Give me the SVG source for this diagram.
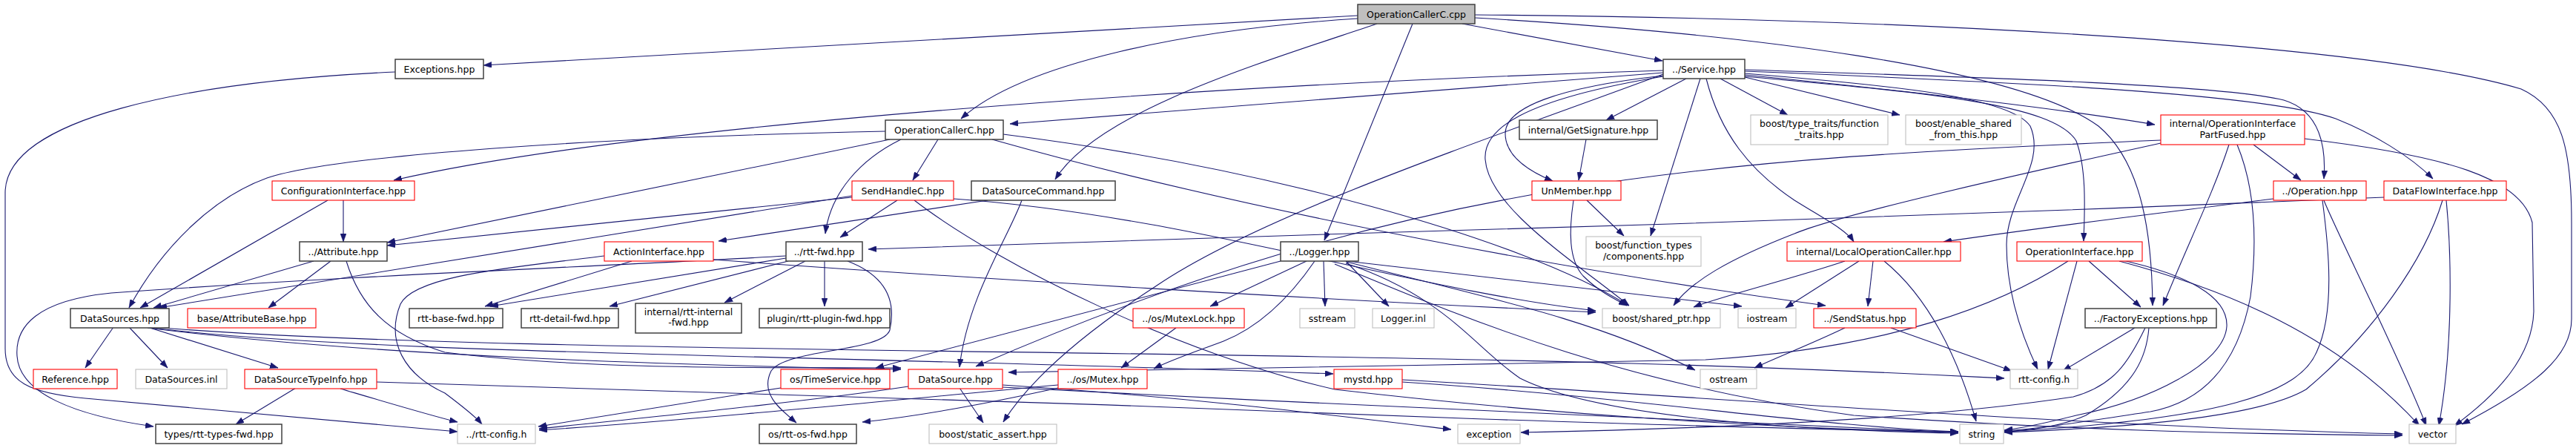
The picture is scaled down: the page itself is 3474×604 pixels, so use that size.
<svg xmlns="http://www.w3.org/2000/svg" width="3474" height="604" viewBox="0 0 3474 604">
<style>
text{font-family:"DejaVu Sans","Liberation Sans",sans-serif;font-size:12.5px;text-anchor:middle;fill:#000}
.b rect{fill:#fff;stroke:#404040;stroke-width:1.5}
.r rect{fill:#fff;stroke:#ff0000;stroke-width:1.1}
.g rect{fill:#fff;stroke:#bfbfbf;stroke-width:1.1}
.root rect{fill:#bfbfbf;stroke:#404040;stroke-width:1.5}
#edges path{fill:none;stroke:#191970;stroke-width:1.1;marker-end:url(#a)}
</style>
<defs>
<marker id="a" markerWidth="11" markerHeight="8" refX="11" refY="4" orient="auto" markerUnits="userSpaceOnUse"><path d="M0,0L11,4L0,8z" fill="#191970" stroke="#191970" stroke-width="0.5"/></marker>
</defs>
<rect width="3474" height="604" fill="#fff"/>
<g id="edges">
<path d="M1831,21 L652,88"/>
<path d="M1831,25 C1600,40 1380,85 1296,160"/>
<path d="M1857,32 C1700,85 1480,150 1423,242"/>
<path d="M1905,32 L1786,324"/>
<path d="M1972,32 L2242,82"/>
<path d="M1989,24 C2350,45 2720,90 2830,170 C2890,220 2902,320 2903,412"/>
<path d="M1989,20 C2600,25 3200,60 3400,120 C3455,145 3468,200 3468,300 L3468,430 C3468,480 3420,520 3320,572"/>
<path d="M533,97 C250,110 7,160 7,260 L7,470 C7,515 40,530 115,537 L617,582"/>
<path d="M2243,98 L1362,167"/>
<path d="M2243,95 C1600,115 850,170 531,243"/>
<path d="M2274,106 L2166,162"/>
<path d="M2243,102 C2100,118 2030,145 2030,180 C2030,210 2060,230 2094,244"/>
<path d="M2293,106 L2226,318"/>
<path d="M2243,103 C2050,135 2000,175 2003,215 C2008,280 2120,350 2197,412"/>
<path d="M2320,106 L2411,155"/>
<path d="M2353,104 L2562,155"/>
<path d="M2353,101 C2600,125 2800,150 2906,168"/>
<path d="M2353,94 C2700,105 3000,115 3080,135 C3130,150 3137,200 3134,241"/>
<path d="M2353,96 C2700,110 3050,125 3150,160 C3200,180 3250,210 3281,241"/>
<path d="M2301,106 C2320,180 2360,230 2420,270 C2460,295 2490,310 2500,326"/>
<path d="M2353,103 C2600,125 2770,140 2800,190 C2815,230 2811,290 2810,325"/>
<path d="M2353,99 C2550,115 2710,130 2738,170 C2760,220 2706,270 2706,330 C2706,400 2730,460 2748,498"/>
<path d="M2243,100 C2000,190 1700,290 1560,385 C1460,450 1390,510 1353,569"/>
<path d="M1194,177 C800,185 450,210 360,240 C290,265 220,330 174,415"/>
<path d="M1200,188 L522,327"/>
<path d="M1265,188 L1231,243"/>
<path d="M1215,188 C1160,215 1120,260 1113,315"/>
<path d="M1353,181 C1700,225 2050,320 2196,412"/>
<path d="M1338,188 C1700,290 2150,370 2462,412"/>
<path d="M2139,188 L2129,243"/>
<path d="M2140,270 L2190,318"/>
<path d="M2122,270 C2116,310 2115,350 2135,372 C2155,392 2175,402 2194,412"/>
<path d="M463,270 L463,326"/>
<path d="M442,270 L189,415"/>
<path d="M1149,266 L522,331"/>
<path d="M1149,264 L214,415"/>
<path d="M1210,270 L1133,320"/>
<path d="M1233,270 C1350,360 1600,480 1800,525 C2100,560 2400,578 2641,583"/>
<path d="M1286,268 C1600,290 1900,390 2152,419"/>
<path d="M1332,270 L969,325"/>
<path d="M1378,270 C1360,320 1305,400 1294,495"/>
<path d="M3039,195 L3103,243"/>
<path d="M3006,195 C2985,260 2950,330 2917,412"/>
<path d="M3017,195 C3040,250 3045,320 3035,400 C3020,480 2980,540 2900,555 C2800,570 2750,578 2703,581"/>
<path d="M3108,187 C3300,210 3400,240 3415,300 L3417,420 C3415,480 3370,530 3310,574"/>
<path d="M2914,193 C2700,240 2480,290 2420,315 C2330,350 2280,380 2257,412"/>
<path d="M3215,266 C2900,280 2400,297 2252,302 C1900,312 1500,325 1171,336"/>
<path d="M2914,189 C2300,215 1900,240 1316,494"/>
<path d="M3066,268 C2950,283 2800,300 2621,326"/>
<path d="M3132,270 C3140,330 3150,420 3124,475 C3100,530 3000,565 2703,582"/>
<path d="M3134,270 C3145,300 3240,490 3272,574"/>
<path d="M3294,270 C3270,350 3200,450 3110,525 C3050,560 2900,575 2703,583"/>
<path d="M3299,270 C3305,330 3310,460 3289,574"/>
<path d="M423,352 L207,415"/>
<path d="M446,352 L362,415"/>
<path d="M467,352 C485,410 520,450 600,475 C800,500 1050,495 1215,496"/>
<path d="M153,441 L115,496"/>
<path d="M174,441 L226,496"/>
<path d="M199,441 L375,496"/>
<path d="M199,442 C500,480 900,492 1215,498"/>
<path d="M204,442 C500,478 1100,478 1798,504"/>
<path d="M208,441 C600,475 1500,470 2200,490 C2450,497 2600,505 2703,510"/>
<path d="M399,523 L318,572"/>
<path d="M508,515 C900,525 1500,545 2000,565 C2300,575 2500,580 2641,582"/>
<path d="M459,524 C530,545 580,560 617,569"/>
<path d="M852,352 L654,413"/>
<path d="M962,350 C1300,375 1800,405 2152,421"/>
<path d="M815,345 C700,360 560,370 540,410 C520,460 545,505 600,530 C620,545 640,560 650,572"/>
<path d="M1060,348 L661,413"/>
<path d="M1063,352 L822,413"/>
<path d="M1086,352 L977,408"/>
<path d="M1112,352 L1112,413"/>
<path d="M1060,345 C800,360 500,370 150,395 C50,405 20,440 23,480 C26,530 100,560 207,575"/>
<path d="M1143,352 C1190,370 1210,400 1200,445 C1190,475 1060,470 1040,500 C1025,530 1050,550 1074,570"/>
<path d="M1762,352 L1632,413"/>
<path d="M1785,352 L1787,413"/>
<path d="M1815,352 L1873,413"/>
<path d="M1816,352 L2349,413"/>
<path d="M1816,353 C2000,400 2150,430 2286,499"/>
<path d="M1815,355 C1950,400 1990,470 2050,510 C2150,560 2400,580 2641,584"/>
<path d="M1800,356 C2000,440 2200,520 2500,560 C2800,580 3000,585 3240,587"/>
<path d="M1727,352 L1181,496"/>
<path d="M1773,352 C1740,400 1700,440 1650,460 C1610,475 1580,485 1556,497"/>
<path d="M1586,442 L1512,496"/>
<path d="M2507,352 L2408,415"/>
<path d="M2526,352 L2519,413"/>
<path d="M2541,352 C2600,400 2640,480 2665,568"/>
<path d="M2488,352 C2420,375 2320,400 2284,414"/>
<path d="M2817,352 L2887,414"/>
<path d="M2801,352 L2762,498"/>
<path d="M2789,352 C2700,410 2550,470 2300,485 C2000,492 1600,497 1360,502"/>
<path d="M2858,352 C3000,390 3150,450 3263,574"/>
<path d="M2858,350 C2950,370 3005,400 3003,440 C3000,490 2900,540 2800,560 C2760,570 2730,577 2703,580"/>
<path d="M2488,442 C2440,465 2400,480 2366,496"/>
<path d="M2550,442 L2713,500"/>
<path d="M2879,442 L2782,500"/>
<path d="M2898,442 C2895,480 2880,520 2813,560 C2780,575 2740,580 2703,582"/>
<path d="M2893,442 C2870,490 2850,520 2796,535 C2600,565 2300,578 2051,583"/>
<path d="M1053,523 L726,575"/>
<path d="M1225,521 C1100,540 900,560 727,578"/>
<path d="M1294,523 L1326,570"/>
<path d="M1352,519 C1600,535 1800,560 1957,579"/>
<path d="M1352,522 C1800,545 2300,570 2641,583"/>
<path d="M1427,519 C1200,540 950,565 727,580"/>
<path d="M1427,523 C1350,540 1250,560 1163,569"/>
<path d="M1891,515 C2200,535 2450,575 2641,582"/>
<path d="M1891,512 C2300,535 2800,575 3240,585"/>
</g>
<g id="n_occ_cpp" class="root"><rect x="1831" y="6" width="158" height="26"/><text x="1910" y="23.5">OperationCallerC.cpp</text></g>
<g id="n_exceptions" class="b"><rect x="533" y="80" width="119" height="26"/><text x="592.5" y="97.5">Exceptions.hpp</text></g>
<g id="n_service" class="b"><rect x="2243" y="80" width="110" height="26"/><text x="2298" y="97.5">../Service.hpp</text></g>
<g id="n_occ_hpp" class="b"><rect x="1194" y="162" width="159" height="26"/><text x="1273.5" y="179.5">OperationCallerC.hpp</text></g>
<g id="n_getsig" class="b"><rect x="2049" y="162" width="186" height="26"/><text x="2142" y="179.5">internal/GetSignature.hpp</text></g>
<g id="n_typetraits" class="g"><rect x="2361" y="155" width="185" height="40"/><text x="2453.5" y="170.5">boost/type_traits/function</text><text x="2453.5" y="185.5">_traits.hpp</text></g>
<g id="n_enable" class="g"><rect x="2570" y="155" width="156" height="40"/><text x="2648" y="170.5">boost/enable_shared</text><text x="2648" y="185.5">_from_this.hpp</text></g>
<g id="n_partfused" class="r"><rect x="2914" y="155" width="194" height="40"/><text x="3011" y="170.5">internal/OperationInterface</text><text x="3011" y="185.5">PartFused.hpp</text></g>
<g id="n_config" class="r"><rect x="367" y="244" width="192" height="26"/><text x="463" y="261.5">ConfigurationInterface.hpp</text></g>
<g id="n_sendhandle" class="r"><rect x="1149" y="244" width="137" height="26"/><text x="1217.5" y="261.5">SendHandleC.hpp</text></g>
<g id="n_dscommand" class="b"><rect x="1310" y="244" width="194" height="26"/><text x="1407" y="261.5">DataSourceCommand.hpp</text></g>
<g id="n_unmember" class="r"><rect x="2066" y="244" width="120" height="26"/><text x="2126" y="261.5">UnMember.hpp</text></g>
<g id="n_operation" class="r"><rect x="3066" y="244" width="125" height="26"/><text x="3128.5" y="261.5">../Operation.hpp</text></g>
<g id="n_dataflow" class="r"><rect x="3215" y="244" width="165" height="26"/><text x="3297.5" y="261.5">DataFlowInterface.hpp</text></g>
<g id="n_attribute" class="b"><rect x="404" y="326" width="118" height="26"/><text x="463" y="343.5">../Attribute.hpp</text></g>
<g id="n_action" class="r"><rect x="815" y="326" width="147" height="26"/><text x="888.5" y="343.5">ActionInterface.hpp</text></g>
<g id="n_rttfwd" class="b"><rect x="1060" y="326" width="103" height="26"/><text x="1111.5" y="343.5">../rtt-fwd.hpp</text></g>
<g id="n_logger" class="b"><rect x="1727" y="326" width="105" height="26"/><text x="1779.5" y="343.5">../Logger.hpp</text></g>
<g id="n_ftypes" class="g"><rect x="2139" y="319" width="155" height="40"/><text x="2216.5" y="334.5">boost/function_types</text><text x="2216.5" y="349.5">/components.hpp</text></g>
<g id="n_localop" class="r"><rect x="2410" y="326" width="234" height="26"/><text x="2527" y="343.5">internal/LocalOperationCaller.hpp</text></g>
<g id="n_opiface" class="r"><rect x="2720" y="326" width="169" height="26"/><text x="2804.5" y="343.5">OperationInterface.hpp</text></g>
<g id="n_datasources" class="b"><rect x="95" y="416" width="133" height="26"/><text x="161.5" y="433.5">DataSources.hpp</text></g>
<g id="n_attrbase" class="r"><rect x="253" y="416" width="173" height="26"/><text x="339.5" y="433.5">base/AttributeBase.hpp</text></g>
<g id="n_basefwd" class="b"><rect x="552" y="416" width="126" height="26"/><text x="615" y="433.5">rtt-base-fwd.hpp</text></g>
<g id="n_detailfwd" class="b"><rect x="703" y="416" width="131" height="26"/><text x="768.5" y="433.5">rtt-detail-fwd.hpp</text></g>
<g id="n_internalfwd" class="b"><rect x="857" y="409" width="143" height="40"/><text x="928.5" y="424.5">internal/rtt-internal</text><text x="928.5" y="439">-fwd.hpp</text></g>
<g id="n_pluginfwd" class="b"><rect x="1024" y="416" width="176" height="26"/><text x="1112" y="433.5">plugin/rtt-plugin-fwd.hpp</text></g>
<g id="n_mutexlock" class="r"><rect x="1528" y="416" width="150" height="26"/><text x="1603" y="433.5">../os/MutexLock.hpp</text></g>
<g id="n_sstream" class="g"><rect x="1753" y="416" width="74" height="26"/><text x="1790" y="433.5">sstream</text></g>
<g id="n_loggerinl" class="g"><rect x="1851" y="416" width="83" height="26"/><text x="1892.5" y="433.5">Logger.inl</text></g>
<g id="n_sharedptr" class="g"><rect x="2161" y="416" width="159" height="26"/><text x="2240.5" y="433.5">boost/shared_ptr.hpp</text></g>
<g id="n_iostream" class="g"><rect x="2344" y="416" width="78" height="26"/><text x="2383" y="433.5">iostream</text></g>
<g id="n_sendstatus" class="r"><rect x="2446" y="416" width="138" height="26"/><text x="2515" y="433.5">../SendStatus.hpp</text></g>
<g id="n_factoryexc" class="b"><rect x="2812" y="416" width="177" height="26"/><text x="2900.5" y="433.5">../FactoryExceptions.hpp</text></g>
<g id="n_reference" class="r"><rect x="45" y="498" width="113" height="26"/><text x="101.5" y="515.5">Reference.hpp</text></g>
<g id="n_dsinl" class="g"><rect x="183" y="498" width="123" height="26"/><text x="244.5" y="515.5">DataSources.inl</text></g>
<g id="n_dstypeinfo" class="r"><rect x="330" y="498" width="178" height="26"/><text x="419" y="515.5">DataSourceTypeInfo.hpp</text></g>
<g id="n_timeservice" class="r"><rect x="1053" y="498" width="147" height="26"/><text x="1126.5" y="515.5">os/TimeService.hpp</text></g>
<g id="n_datasource" class="r"><rect x="1225" y="498" width="127" height="26"/><text x="1288.5" y="515.5">DataSource.hpp</text></g>
<g id="n_mutex" class="r"><rect x="1427" y="498" width="120" height="26"/><text x="1487" y="515.5">../os/Mutex.hpp</text></g>
<g id="n_mystd" class="r"><rect x="1799" y="498" width="92" height="26"/><text x="1845" y="515.5">mystd.hpp</text></g>
<g id="n_ostream" class="g"><rect x="2293" y="498" width="76" height="26"/><text x="2331" y="515.5">ostream</text></g>
<g id="n_rttconfig" class="g"><rect x="2711" y="498" width="91" height="26"/><text x="2756.5" y="515.5">rtt-config.h</text></g>
<g id="n_typesfwd" class="b"><rect x="210" y="572" width="170" height="26"/><text x="295" y="589.5">types/rtt-types-fwd.hpp</text></g>
<g id="n_uprttconfig" class="g"><rect x="617" y="572" width="105" height="26"/><text x="669.5" y="589.5">../rtt-config.h</text></g>
<g id="n_osfwd" class="b"><rect x="1024" y="572" width="131" height="26"/><text x="1089.5" y="589.5">os/rtt-os-fwd.hpp</text></g>
<g id="n_staticassert" class="g"><rect x="1253" y="572" width="172" height="26"/><text x="1339" y="589.5">boost/static_assert.hpp</text></g>
<g id="n_exception" class="g"><rect x="1966" y="572" width="84" height="26"/><text x="2008" y="589.5">exception</text></g>
<g id="n_string" class="g"><rect x="2643" y="572" width="59" height="26"/><text x="2672.5" y="589.5">string</text></g>
<g id="n_vector" class="g"><rect x="3249" y="572" width="63" height="26"/><text x="3280.5" y="589.5">vector</text></g>
</svg>
